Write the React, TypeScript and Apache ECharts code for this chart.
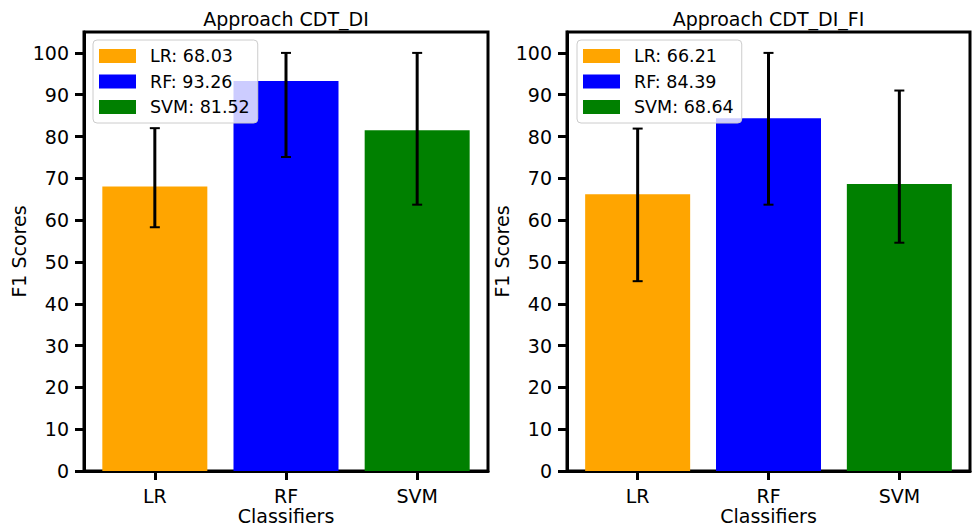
import React, { useEffect, useRef } from 'react';
import * as echarts from 'echarts';

const categories = ['LR', 'RF', 'SVM'];
const titles = ['Approach CDT_DI', 'Approach CDT_DI_FI'];
const cdtDiScores = [68.03, 93.26, 81.52];
const cdtDiLower = [58.3, 75.1, 63.7];
const cdtDiUpper = [82.0, 100, 100];
const cdtDiFiScores = [66.21, 84.39, 68.64];
const cdtDiFiLower = [45.4, 63.7, 54.6];
const cdtDiFiUpper = [81.9, 100, 91.0];
const barColors = ['#ffa500', '#0000ff', '#008000'];
const yTicks = [0, 10, 20, 30, 40, 50, 60, 70, 80, 90, 100];
const xTicks = [0, 1, 2];

const FONT = 'DejaVu Sans';
const FS = 19;
const LEGEND_FS = 17.5;

export default function App() {
  const ref = useRef<HTMLDivElement>(null);
  useEffect(() => {
    document.body.style.margin = '0';
    const chart = echarts.init(ref.current!, null, { renderer: 'svg' });
    const panels = [
      { scores: cdtDiScores, lower: cdtDiLower, upper: cdtDiUpper },
      { scores: cdtDiFiScores, lower: cdtDiFiLower, upper: cdtDiFiUpper },
    ];
    const grids = [
      { left: 84, top: 32, width: 404, height: 439 },
      { left: 567, top: 32, width: 403, height: 439 },
    ];
    const legendPos = [
      { left: 93, top: 40 },
      { left: 577, top: 40 },
    ];
    const series: any[] = [];
    const legends: any[] = [];
    panels.forEach((p, gi) => {
      const names: string[] = [];
      categories.forEach((c, i) => {
        const name = `${c}: ${p.scores[i].toFixed(2)}`;
        names.push(name);
        series.push({
          type: 'bar',
          name,
          xAxisIndex: gi,
          yAxisIndex: gi,
          barWidth: 105,
          barGap: '-100%',
          itemStyle: { color: barColors[i] },
          data: [[i, p.scores[i]]],
          z: 2,
        });
      });
      series.push({
        type: 'custom',
        xAxisIndex: gi,
        yAxisIndex: gi,
        z: 3,
        data: categories.map((_, i) => [i, p.lower[i], p.upper[i]]),
        renderItem: (params: any, api: any) => {
          const x = api.value(0);
          const lo = api.coord([x, api.value(1)]);
          const hi = api.coord([x, api.value(2)]);
          const cap = 5;
          return {
            type: 'group',
            children: [
              { type: 'line', shape: { x1: lo[0], y1: lo[1], x2: hi[0], y2: hi[1] }, style: { stroke: '#000', lineWidth: 3 } },
              { type: 'line', shape: { x1: lo[0] - cap, y1: lo[1], x2: lo[0] + cap, y2: lo[1] }, style: { stroke: '#000', lineWidth: 2 } },
              { type: 'line', shape: { x1: hi[0] - cap, y1: hi[1], x2: hi[0] + cap, y2: hi[1] }, style: { stroke: '#000', lineWidth: 2 } },
            ],
          };
        },
      });
      legends.push({
        data: names,
        orient: 'vertical',
        left: legendPos[gi].left,
        top: legendPos[gi].top,
        icon: 'rect',
        itemWidth: 37,
        itemHeight: 14,
        itemGap: 7.5,
        padding: [7, 8, 7, 6],
        backgroundColor: 'rgba(255,255,255,0.8)',
        borderColor: '#cccccc',
        borderWidth: 1,
        borderRadius: 4,
        selectedMode: false,
        textStyle: { fontFamily: FONT, fontSize: LEGEND_FS, color: '#000', padding: [0, 0, 0, 9], lineHeight: 14 },
      });
    });

    const axisLine = { show: true, onZero: false, lineStyle: { color: '#000', width: 3 } };
    const axisTick = { show: true, length: 9, lineStyle: { color: '#000', width: 3 } };

    chart.setOption({
      animation: false,
      grid: grids.map((g) => ({ ...g, show: true, borderColor: '#000', borderWidth: 3, backgroundColor: 'transparent', outerBoundsMode: 'none', containLabel: false })),
      xAxis: grids.map((_, gi) => ({
        type: 'value',
        gridIndex: gi,
        min: -0.54,
        max: 2.54,
        splitLine: { show: false },
        axisLine,
        axisTick: { ...axisTick, customValues: xTicks },
        axisLabel: {
          customValues: xTicks,
          formatter: (v: number) => categories[Math.round(v)] ?? '',
          fontFamily: FONT,
          fontSize: FS,
          color: '#000',
          margin: 15,
        },
        name: 'Classifiers',
        nameLocation: 'middle',
        nameGap: 36,
        nameMoveOverlap: false,
        nameTextStyle: { fontFamily: FONT, fontSize: FS, color: '#000', lineHeight: 18 },
      })),
      yAxis: grids.map((_, gi) => ({
        type: 'value',
        gridIndex: gi,
        min: 0,
        max: 105,
        splitLine: { show: false },
        axisLine,
        axisTick: { ...axisTick, customValues: yTicks },
        axisLabel: {
          customValues: yTicks,
          fontFamily: FONT,
          fontSize: FS,
          color: '#000',
          margin: 15,
        },
        name: 'F1 Scores',
        nameLocation: 'middle',
        nameGap: 55,
        nameTextStyle: { fontFamily: FONT, fontSize: FS, color: '#000' },
      })),
      legend: legends,
      graphic: grids.map((g, gi) => ({
        type: 'text',
        x: g.left + g.width / 2,
        y: 19,
        style: {
          text: titles[gi],
          textAlign: 'center',
          textVerticalAlign: 'middle',
          fontFamily: FONT,
          fontSize: FS,
          fill: '#000',
        },
      })),
      series,
    });
    return () => chart.dispose();
  }, []);
  return <div ref={ref} style={{ width: 973, height: 526 }} />;
}
